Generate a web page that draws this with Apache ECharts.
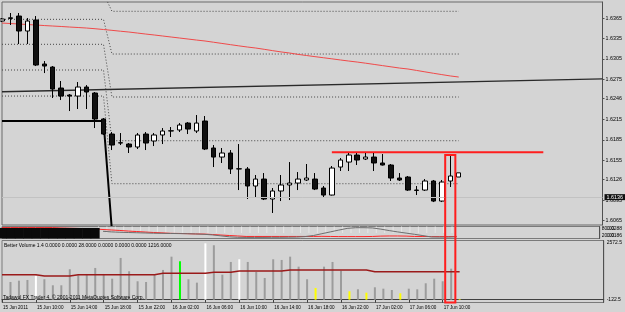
<!DOCTYPE html>
<html>
<head>
<meta charset="utf-8">
<script src="https://cdn.jsdelivr.net/npm/echarts@6/dist/echarts.min.js"></script>
<style>
  html, body { margin: 0; padding: 0; background: #d4d4d4; }
  #chart { width: 625px; height: 312px; }
</style>
</head>
<body>
<div id="chart"></div>
<script>
// H1 bars, 15 Jun 06:00 .. 17 Jun 12:00 (55 bars), chart shifted left like MT4
const slotCount = 71
const slotMax = 70.8
const timeLabels = ['15 Jun 2011', '15 Jun 10:00', '15 Jun 14:00', '15 Jun 18:00', '15 Jun 22:00',
  '16 Jun 02:00', '16 Jun 06:00', '16 Jun 10:00', '16 Jun 14:00', '16 Jun 18:00', '16 Jun 22:00',
  '17 Jun 02:00', '17 Jun 06:00', '17 Jun 10:00']

// [open, close, low, high]
const candles = [
  [1.63610, 1.63640, 1.63595, 1.63654], [1.63647, 1.63659, 1.63551, 1.63729],
  [1.63684, 1.63462, 1.63269, 1.63729], [1.63462, 1.63610, 1.63269, 1.63654],
  [1.63625, 1.62958, 1.62943, 1.63684], [1.62973, 1.62943, 1.62839, 1.63017],
  [1.62928, 1.62602, 1.62469, 1.62943], [1.62617, 1.62498, 1.62439, 1.62721],
  [1.62513, 1.62498, 1.62276, 1.62528], [1.62498, 1.62632, 1.62306, 1.62706],
  [1.62632, 1.62558, 1.62306, 1.62661], [1.62543, 1.62158, 1.62024, 1.62558],
  [1.62158, 1.61935, 1.61921, 1.62172], [1.61935, 1.61772, 1.61698, 1.61965],
  [1.61806, 1.61802, 1.61772, 1.61950], [1.61787, 1.61743, 1.61654, 1.61802],
  [1.61743, 1.61921, 1.61713, 1.61950], [1.61935, 1.61802, 1.61698, 1.61965],
  [1.61832, 1.61921, 1.61757, 1.61950], [1.61921, 1.61980, 1.61787, 1.62024],
  [1.61980, 1.61984, 1.61891, 1.62039], [1.61995, 1.62069, 1.61965, 1.62098],
  [1.62098, 1.62009, 1.61935, 1.62113], [1.61980, 1.62098, 1.61950, 1.62217],
  [1.62128, 1.61713, 1.61698, 1.62202], [1.61728, 1.61594, 1.61446, 1.61772],
  [1.61594, 1.61654, 1.61506, 1.61728], [1.61654, 1.61417, 1.61343, 1.61698],
  [1.61417, 1.61421, 1.61105, 1.61787], [1.61417, 1.61165, 1.60972, 1.61446],
  [1.61165, 1.61268, 1.60987, 1.61328], [1.61268, 1.60972, 1.60957, 1.61357],
  [1.60972, 1.61091, 1.60765, 1.61135], [1.61091, 1.61180, 1.60942, 1.61328],
  [1.61180, 1.61209, 1.60957, 1.61520], [1.61209, 1.61268, 1.61105, 1.61372],
  [1.61254, 1.61283, 1.61239, 1.61491], [1.61268, 1.61120, 1.61105, 1.61357],
  [1.61135, 1.61031, 1.61002, 1.61165], [1.61031, 1.61431, 1.61024, 1.61461],
  [1.61446, 1.61550, 1.61387, 1.61580], [1.61520, 1.61624, 1.61387, 1.61654],
  [1.61624, 1.61550, 1.61476, 1.61654], [1.61565, 1.61594, 1.61550, 1.61654],
  [1.61594, 1.61506, 1.61387, 1.61654], [1.61506, 1.61476, 1.61468, 1.61639],
  [1.61476, 1.61283, 1.61239, 1.61491], [1.61283, 1.61254, 1.61239, 1.61357],
  [1.61298, 1.61105, 1.61091, 1.61313], [1.61105, 1.61100, 1.61031, 1.61165],
  [1.61105, 1.61239, 1.61091, 1.61268], [1.61239, 1.60942, 1.60927, 1.61254],
  [1.60942, 1.61224, 1.60927, 1.61254], [1.61239, 1.61313, 1.61150, 1.61609],
  [1.61298, 1.61360, 1.61298, 1.61360]
]

const slowMA = [1.63580, 1.63573, 1.63566, 1.63558, 1.63551, 1.63543, 1.63536, 1.63529, 1.63521, 1.63514,
  1.63506, 1.63496, 1.63484, 1.63472, 1.63459, 1.63447, 1.63432, 1.63417, 1.63403, 1.63388,
  1.63373, 1.63358, 1.63343, 1.63328, 1.63314, 1.63296, 1.63278, 1.63260, 1.63242, 1.63225,
  1.63210, 1.63191, 1.63171, 1.63152, 1.63136, 1.63116, 1.63099, 1.63082, 1.63066, 1.63050,
  1.63033, 1.63017, 1.63002, 1.62985, 1.62967, 1.62949, 1.62931, 1.62913, 1.62899, 1.62878,
  1.62857, 1.62836, 1.62816, 1.62796, 1.62780]

const trendLine = [[0, 1.62562], [71, 1.62752]]
const stopLine = [[0, 1.62128], [12, 1.62128], [13, 1.60500]]
const levelIdx = [0, 12, 13, 54]
const levelsBefore = [1.64021, 1.63635, 1.63265, 1.62884, 1.62498]
const levelsAfter = [1.63754, 1.63121, 1.62484, 1.61836, 1.61199]
const resistLine = [[39, 1.61664], [64, 1.61664]]
const bidPrice = 1.6136
const boxBar = 53
const boxTop = 1.61624

const priceTicks = [1.6365, 1.6335, 1.6305, 1.6275, 1.6246, 1.6215, 1.6185, 1.6155, 1.6126, 1.6095, 1.6065]

// stochastic window
const stochD = [91, 91, 91, 91, 91, 91, 91, 88, 86, 84, 82, 79, 75, 71, 67, 62, 58, 54, 50, 47,
  43, 42, 40, 38, 37, 33, 29, 25, 21, 17, 17, 17, 17, 17, 17, 17, 17, 17, 18, 17,
  16, 16, 16, 16, 17, 20, 21, 21, 20, 17, 17, 16, 16, 16, 17]
const stochK = [null, null, null, null, null, null, null, null, null, null, null, null,
  60, 55, 52, 50, 48, 46, 44, 43, 42, 41, 40, 38, 35, 30, 22, 14, 10, 9,
  9, 9, 10, 10, 11, 12, 16, 25, 40, 55, 70, 84, 90, 90, 88, 78, 66, 55, 45, 35,
  24, 13, 12, 12, 14]
const stochBlock = [88, 88, 88, 88, 88, 88, 88, 88, 88, 88, 88, 88]
const stochTicks = [null, null, null, null, null, null, null, null, null, null, null, null,
  55, 55, 55, 55, 55, 55, 55, 55, 55, 55, 55, 55, 55, 55, 55, 55, 55, 55,
  55, 55, 55, 55, 55, 55, 55, 55, 55, 55, 55, 55, 55, 55, 55, 55, 55, 55, 55, 55,
  55, 55, 55, 55, 55]
const stochLevels = [80, 20]
const stochLabels = ['80.00', '20.00']
const stochLabels2 = ['0.0288', '0.0186']

// Better Volume
const volume = [null, 770, 826, 857, 1031, 887, 626, 626, 1322, 1061, 1118, 1379, 1118, 913, 1814,
  1235, 800, 770, 1087, 1292, 1870, 1670, 887, 740, 2450, 2366, 1087, 1640, 1757, 1640,
  1205, 944, 1757, 1727, 1870, 1435, 887, 509, 1435, 1640, 1261, 365, 452, 304, 539,
  478, 422, 278, 478, 452, 713, 913, 800, 1348, 28]
const volumeMA = [1087, 1087, 1087, 1087, 1087, 1031, 1031, 1031, 1031, 1087, 1087, 1087, 1087, 1087, 1087,
  1087, 1087, 1087, 1087, 1148, 1148, 1148, 1148, 1148, 1148, 1192, 1192, 1192, 1248, 1248,
  1248, 1248, 1248, 1248, 1292, 1292, 1292, 1292, 1292, 1292, 1292, 1292, 1292, 1292, 1216,
  1216, 1216, 1216, 1216, 1216, 1216, 1216, 1216, 1216, 1216]
const whiteBars = [4, 24, 28]
const greenBars = [21]
const yellowBars = [37, 41, 43, 47, 54]
const volMax = 2572.5
const volMin = -122.5

const categories = Array.from({ length: slotCount }, (_, i) => String(i))
const font = 'Liberation Sans'

const chart = echarts.init(document.getElementById('chart'))

function xAxisFor(g, withLabels) {
  const shown = (idx) => idx % 4 === 0 && idx / 4 < timeLabels.length
  return {
    type: 'category',
    gridIndex: g,
    data: categories,
    boundaryGap: false,
    max: slotMax,
    axisLine: { show: withLabels, lineStyle: { color: '#404040', width: 1 } },
    axisTick: { show: withLabels, interval: shown, length: 3, lineStyle: { color: '#404040' } },
    axisLabel: {
      show: withLabels,
      interval: shown,
      formatter: (v, idx) => timeLabels[idx / 4] || '',
      align: 'left',
      fontSize: 4.6,
      fontFamily: font,
      color: '#000',
      margin: 3,
      padding: [0, 0, 0, 1]
    },
    splitLine: { show: false }
  }
}

// one label axis per end of the volume window (top label hangs below the top edge, bottom one sits above)
function volLabelAxis(value, vAlign, withLine) {
  return {
    type: 'value', gridIndex: 2, position: 'right', min: volMin, max: volMax,
    axisLine: { show: withLine, lineStyle: { color: '#505050' } },
    axisTick: { show: false },
    axisLabel: {
      customValues: [value], formatter: v => String(v), verticalAlign: vAlign,
      fontSize: 5, fontFamily: font, color: '#000', margin: 3
    },
    splitLine: { show: false }
  }
}

const levelSeries = levelsBefore.map((lv, k) => ({
  type: 'line',
  xAxisIndex: 0,
  yAxisIndex: 0,
  data: [[levelIdx[0], lv], [levelIdx[1], lv], [levelIdx[2], levelsAfter[k]], [levelIdx[3], levelsAfter[k]]],
  showSymbol: false,
  lineStyle: { color: '#454545', width: 1, type: [1, 2] },
  z: 2
}))

chart.setOption({
  animation: false,
  backgroundColor: '#d4d4d4',
  grid: [
    { left: 2, right: 21, top: 2, height: 223, show: true, borderColor: '#6a6a6a', borderWidth: 1 },
    { left: 2, right: 21, top: 226.5, height: 12, show: true, borderColor: '#7a7a7a', borderWidth: 1 },
    { left: 2, right: 21, top: 240.5, height: 62, show: true, borderColor: '#7a7a7a', borderWidth: 1 }
  ],
  xAxis: [xAxisFor(0, false), xAxisFor(1, false), xAxisFor(2, true)],
  yAxis: [
    {
      type: 'value', gridIndex: 0, position: 'right', min: 1.60587, max: 1.63892,
      axisLine: { show: true, lineStyle: { color: '#505050' } },
      axisTick: { show: true, customValues: priceTicks, length: 2, lineStyle: { color: '#505050' } },
      axisLabel: { customValues: priceTicks, formatter: v => v.toFixed(4), fontSize: 5.4, fontFamily: font, color: '#000', margin: 3 },
      splitLine: { show: false }
    },
    {
      type: 'value', gridIndex: 1, position: 'right', min: 0, max: 100,
      axisLine: { show: true, lineStyle: { color: '#505050' } },
      axisTick: { show: false },
      axisLabel: { customValues: stochLevels, formatter: v => stochLabels[stochLevels.indexOf(v)], fontSize: 5, fontFamily: font, color: '#000', margin: 2 },
      splitLine: { show: false }
    },
    {
      type: 'value', gridIndex: 1, position: 'right', offset: 5, min: 0, max: 100,
      axisLine: { show: false }, axisTick: { show: false },
      axisLabel: { customValues: stochLevels, formatter: v => stochLabels2[stochLevels.indexOf(v)], fontSize: 5, fontFamily: font, color: '#000', margin: 2 },
      splitLine: { show: false }
    },
    {
      type: 'value', gridIndex: 1, inverse: true, min: 0, max: 100, show: false
    },
    volLabelAxis(volMax, 'top', true),
    volLabelAxis(volMin, 'bottom', false)
  ],
  series: [
    {
      type: 'candlestick',
      xAxisIndex: 0,
      yAxisIndex: 0,
      data: candles,
      barWidth: 5,
      z: 4,
      itemStyle: { color: '#ffffff', color0: '#101010', borderColor: '#000000', borderColor0: '#000000', borderWidth: 1 },
      markLine: {
        silent: true,
        symbol: 'none',
        data: [{ yAxis: bidPrice }],
        lineStyle: { color: '#c2c2c2', type: 'solid', width: 1 },
        label: {
          position: 'end', distance: 2, formatter: bidPrice.toFixed(4),
          backgroundColor: '#111', color: '#fff', fontSize: 5.4, fontFamily: font, padding: [1, 2, 0, 2]
        }
      }
    },
    {
      type: 'line', xAxisIndex: 0, yAxisIndex: 0, data: slowMA, showSymbol: false, z: 3,
      lineStyle: { color: '#f04a4a', width: 1 }
    },
    {
      type: 'line', xAxisIndex: 0, yAxisIndex: 0, data: trendLine, showSymbol: false, z: 3,
      lineStyle: { color: '#2a2a2a', width: 1.3 }
    },
    {
      type: 'line', xAxisIndex: 0, yAxisIndex: 0, data: stopLine, showSymbol: false, z: 3,
      lineStyle: { color: '#000', width: 2 }
    },
    ...levelSeries,
    {
      type: 'line', xAxisIndex: 0, yAxisIndex: 0, data: resistLine, showSymbol: false, z: 3,
      lineStyle: { color: '#ff1e1e', width: 2 }
    },
    {
      type: 'bar', xAxisIndex: 1, yAxisIndex: 3, data: stochTicks, barWidth: 1,
      itemStyle: { color: '#e6e6e6' }
    },
    {
      type: 'line', xAxisIndex: 1, yAxisIndex: 1, data: stochD, showSymbol: false,
      lineStyle: { color: '#ff2626', width: 1 }
    },
    {
      type: 'line', xAxisIndex: 1, yAxisIndex: 1, data: stochK, showSymbol: false,
      lineStyle: { color: '#6e6e6e', width: 1 }
    },
    {
      type: 'bar', xAxisIndex: 1, yAxisIndex: 1, data: stochBlock, barWidth: 9, z: 5,
      itemStyle: { color: '#0a0a0a' }
    },
    {
      type: 'bar', xAxisIndex: 2, yAxisIndex: 4, data: volume, barWidth: 2,
      itemStyle: {
        color: p => whiteBars.includes(p.dataIndex) ? '#ffffff'
          : greenBars.includes(p.dataIndex) ? '#00ff00'
          : yellowBars.includes(p.dataIndex) ? '#ffff00' : '#9c9c9c'
      }
    },
    {
      type: 'line', xAxisIndex: 2, yAxisIndex: 4, data: volumeMA, showSymbol: false, z: 3,
      lineStyle: { color: '#9a1a1a', width: 1.5 }
    }
  ]
})

// red rectangle drawn around the 17 Jun 11:00 bar, through the lower windows
const bx = chart.convertToPixel({ xAxisIndex: 0 }, boxBar)
const step = chart.convertToPixel({ xAxisIndex: 0 }, boxBar + 1) - bx
const by0 = chart.convertToPixel({ yAxisIndex: 0 }, boxTop)
const by1 = chart.convertToPixel({ yAxisIndex: 4 }, volMin)

chart.setOption({
  graphic: [
    {
      type: 'rect', z: 100,
      shape: { x: bx - step * 0.6, y: by0, width: step * 1.2, height: by1 - by0 },
      style: { fill: 'none', stroke: '#ff1e1e', lineWidth: 2 }
    },
    {
      type: 'text', left: 4, top: 243, z: 100,
      style: { text: 'Better Volume 1.4 0.0000 0.0000 28.0000 0.0000 0.0000 0.0000 1216.0000', fontSize: 5, fontFamily: font, fill: '#000' }
    },
    {
      type: 'text', left: 3, top: 295.5, z: 100,
      style: { text: 'Tadawul FX Trader 4, © 2001-2011 MetaQuotes Software Corp.', fontSize: 5, fontFamily: font, fill: '#000' }
    }
  ]
})
</script>
</body>
</html>
